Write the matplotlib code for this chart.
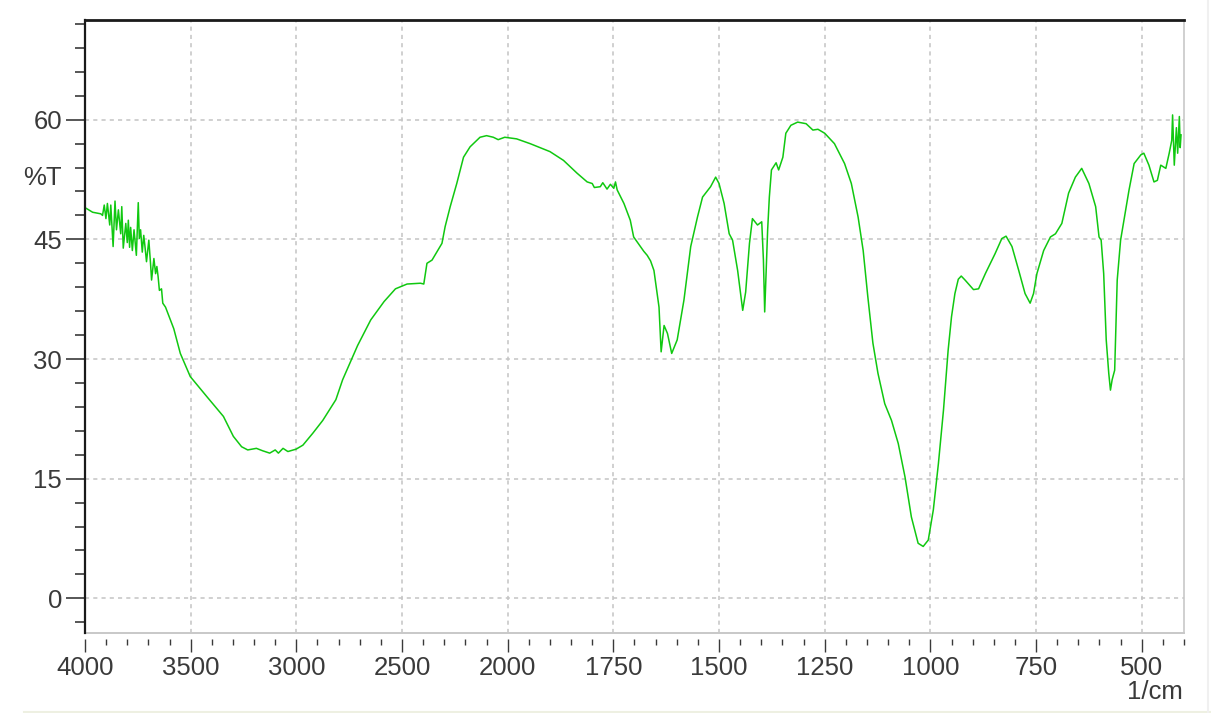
import numpy as np
import matplotlib.pyplot as plt
from matplotlib.lines import Line2D
from matplotlib.ticker import FixedLocator

# FTIR spectrum (wavenumber in 1/cm, transmittance in %T)
wn_high = [4000, 3995, 3964, 3925, 3917, 3909, 3901, 3894, 3883, 3878, 3867, 3858,
           3851, 3842, 3831, 3826, 3819, 3807, 3800, 3795, 3789, 3784, 3776, 3768,
           3757, 3748, 3743, 3737, 3729, 3722, 3717, 3709, 3698, 3690, 3685, 3674,
           3666, 3660, 3654, 3648, 3638, 3632, 3619, 3596, 3580, 3549, 3502, 3424,
           3345, 3298, 3259, 3230, 3189, 3160, 3126, 3100, 3085, 3063, 3040, 3001,
           2969, 2922, 2875, 2844, 2813, 2781, 2710, 2648, 2585, 2531, 2476, 2413,
           2397, 2382, 2358, 2311, 2296, 2272, 2241, 2209, 2178, 2131, 2100, 2068,
           2045, 2014]
t_high = [48.9, 48.9, 48.4, 48.2, 48.0, 49.3, 47.6, 49.5, 46.8, 49.3, 44.1, 49.8,
          46.2, 48.7, 45.7, 49.1, 43.9, 47.0, 44.6, 47.4, 44.0, 46.5, 43.6, 46.2,
          43.0, 49.6, 45.1, 46.2, 43.4, 45.5, 44.3, 42.2, 44.9, 42.0, 39.9, 42.6,
          40.7, 41.6, 40.3, 38.6, 38.8, 37.0, 36.5, 34.9, 33.8, 30.7, 27.8, 25.3,
          22.8, 20.3, 19.0, 18.6, 18.8, 18.5, 18.2, 18.6, 18.2, 18.8, 18.4, 18.7,
          19.2, 20.7, 22.3, 23.6, 24.9, 27.4, 31.7, 34.9, 37.2, 38.8, 39.4, 39.5,
          39.4, 42.0, 42.4, 44.5, 46.6, 49.1, 52.0, 55.3, 56.6, 57.8, 58.0, 57.8,
          57.5, 57.8]

wn_mid = [1979, 1947, 1900, 1868, 1836, 1812, 1800, 1795, 1781, 1775, 1765, 1757,
          1749, 1745, 1741, 1725, 1710, 1702, 1686, 1678, 1670, 1662, 1654, 1642,
          1637, 1630, 1622, 1612, 1599, 1583, 1567, 1551, 1539, 1520, 1508, 1500,
          1488, 1476, 1468, 1456, 1444, 1437, 1428, 1421, 1409, 1399, 1395, 1392,
          1385, 1381, 1376, 1365, 1359, 1349, 1342, 1330, 1314, 1294, 1278, 1266,
          1250, 1227, 1203, 1187, 1171, 1159, 1148, 1136, 1124, 1108, 1092, 1076,
          1060, 1045, 1029, 1017, 1005, 993, 981, 969, 958]
t_mid = [57.6, 57.0, 56.0, 54.9, 53.3, 52.2, 52.0, 51.5, 51.6, 52.1, 51.3, 51.9,
         51.4, 52.2, 51.2, 49.5, 47.4, 45.3, 44.1, 43.5, 43.0, 42.3, 41.1, 36.5,
         30.9, 34.2, 33.2, 30.7, 32.4, 37.4, 44.1, 47.8, 50.3, 51.6, 52.8, 52.0,
         49.5, 45.7, 44.9, 41.1, 36.1, 38.4, 44.5, 47.6, 46.8, 47.2, 42.4, 35.9,
         46.2, 50.3, 53.7, 54.6, 53.7, 55.3, 58.3, 59.3, 59.7, 59.5, 58.7, 58.8,
         58.3, 57.0, 54.5, 52.0, 47.8, 43.6, 37.8, 32.0, 28.2, 24.4, 22.3, 19.4,
         15.2, 10.2, 6.9, 6.5, 7.3, 11.1, 16.9, 23.6, 31.1]

wn_low = [950, 942, 934, 927, 918, 898, 886, 870, 847, 831, 821, 807, 791, 776,
          764, 756, 748, 732, 716, 704, 689, 673, 657, 642, 625, 609, 601, 596,
          590, 584, 578, 574, 570, 564, 558, 550, 542, 530, 518, 502, 495, 483,
          471, 463, 455, 443, 435, 429, 427, 423, 418, 415, 411, 409, 407]
t_low = [35.3, 38.2, 40.0, 40.4, 39.9, 38.7, 38.8, 40.7, 43.2, 45.1, 45.4, 44.1,
         41.1, 38.2, 37.0, 38.2, 40.7, 43.6, 45.3, 45.7, 47.0, 50.8, 52.8, 53.9,
         52.0, 49.1, 45.3, 44.9, 40.7, 32.4, 28.2, 26.1, 27.4, 28.6, 39.9, 44.9,
         47.4, 51.2, 54.5, 55.6, 55.8, 54.3, 52.2, 52.4, 54.3, 53.9, 55.8, 57.4,
         60.6, 54.3, 59.0, 55.8, 60.4, 56.5, 58.1]

wavenumber = np.array(wn_high + wn_mid + wn_low, dtype=float)
transmittance = np.array(t_high + t_mid + t_low, dtype=float)

x_major = [4000, 3500, 3000, 2500, 2000, 1750, 1500, 1250, 1000, 750, 500]
y_major = [0, 15, 30, 45, 60]

TXT = '#3a3a3a'
FS = 18.5
plt.rcParams['font.family'] = ['Liberation Sans', 'DejaVu Sans']


# spectrometer style axis: 4000-2000 drawn at half the scale of 2000-400
def fwd(x):
    x = np.asarray(x, dtype=float)
    return np.where(x > 2000, 2000 + (x - 2000) / 2.0, x)


def inv(t):
    t = np.asarray(t, dtype=float)
    return np.where(t > 2000, 2000 + (t - 2000) * 2.0, t)


fig = plt.figure(figsize=(12.11, 7.13), dpi=100)
ax = fig.add_axes([85 / 1211, 1 - 633 / 713, (1184 - 85) / 1211, (633 - 20) / 713])
ax.set_xscale('function', functions=(fwd, inv))

ax.plot(wavenumber, transmittance, color='#10c810', lw=1.1)

ax.set_xlim(4000, 400)
ax.set_ylim(-4.35, 72.5)

ax.xaxis.set_major_locator(FixedLocator(x_major))
ax.xaxis.set_minor_locator(FixedLocator(list(range(3900, 2000, -100)) + list(range(1950, 399, -50))))
ax.yaxis.set_major_locator(FixedLocator(y_major))
ax.yaxis.set_minor_locator(FixedLocator(list(range(-3, 73, 3))))

ax.grid(True, which='major', color='#c4c4c4', lw=1.1, linestyle=(0, (2.7, 2.7)))
ax.set_axisbelow(True)

for s in ['left', 'top']:
    ax.spines[s].set_color('#1a1a1a')
ax.spines['left'].set_linewidth(1.6)
ax.spines['top'].set_linewidth(2.0)
ax.spines['right'].set_color('#c8c8c8')
ax.spines['right'].set_linewidth(1.2)
# bottom ticks hang a few pixels below the frame
ax.spines['bottom'].set_position(('outward', 4))
ax.spines['bottom'].set_color('none')
ax.plot([0, 1], [0, 0], transform=ax.transAxes, color='#c8c8c8', lw=1.4, clip_on=False)

ax.tick_params(axis='y', which='major', direction='out', length=13.5, width=1.2,
               color=TXT, labelcolor=TXT, labelsize=FS, pad=3)
ax.tick_params(axis='y', which='minor', direction='out', length=7, width=1.2, color=TXT)
ax.tick_params(axis='x', which='major', direction='out', length=9.5, width=1.0,
               color=TXT, labelcolor=TXT, labelsize=FS, pad=3)
ax.tick_params(axis='x', which='minor', direction='out', length=4.5, width=1.0, color=TXT)

fig.text(62 / 1211, 1 - 178 / 713, '%T', ha='right', va='center', fontsize=FS, color=TXT)
fig.text(1183 / 1211, 1 - 692 / 713, '1/cm', ha='right', va='center', fontsize=FS, color=TXT)

# faint window edge lines
fig.add_artist(Line2D([0.02, 1], [1 - 711.5 / 713] * 2, transform=fig.transFigure, color='#eef0e2', lw=1.5))
fig.add_artist(Line2D([1 - 3 / 1211] * 2, [0, 1], transform=fig.transFigure, color='#f0f0f0', lw=1.5))

fig.savefig('out.png', dpi=100, facecolor='white')
